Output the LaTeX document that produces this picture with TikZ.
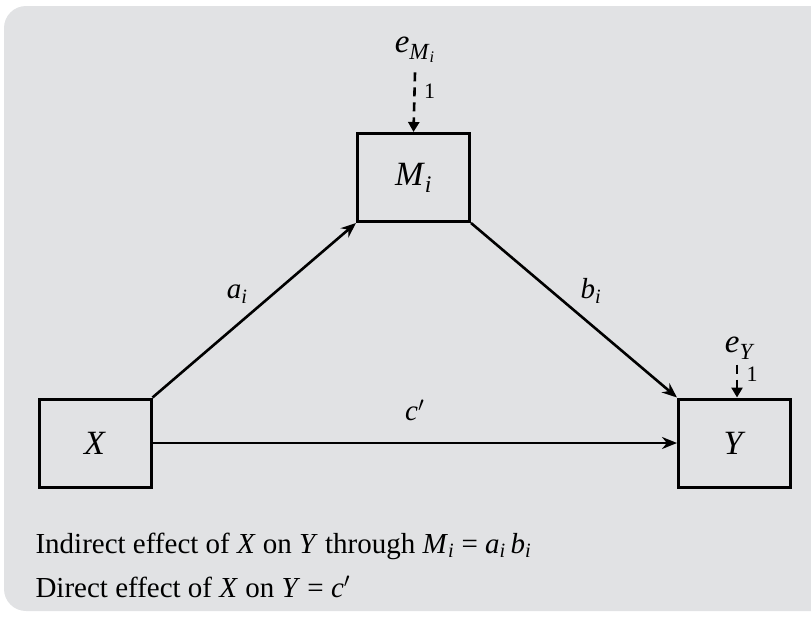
\documentclass[tikz,border=0pt]{standalone}
\usepackage{fontspec}
\setmainfont{Liberation Serif}
\usepackage{xcolor}
\usetikzlibrary{arrows.meta}
\definecolor{panelgray}{HTML}{E1E2E4}
\newcommand{\vb}[1]{\textit{#1}}

\begin{document}
\begin{tikzpicture}[x=1pt, y=-1pt,
    varbox/.style={draw, line width=3pt, minimum width=112pt, minimum height=88pt, inner sep=0pt, font=\fontsize{34}{40}\selectfont},
    path/.style={line width=2.6pt, -{Stealth[length=15pt, width=12pt]}},
    errpath/.style={line width=2.6pt, dash pattern=on 9pt off 6pt, -{Triangle[length=10pt, width=11pt]}},
    every node/.style={font=\fontsize{29}{34}\selectfont}]
    \useasboundingbox (0,0) rectangle (811,616);
    % Panel
    \fill[panelgray, rounded corners=22pt] (4,6) rectangle (860,611);

    % Variables
    \node[varbox] (X) at (95,443) {\vb{X}};
    \node[varbox] (M) at (413.5,177.5) {\vb{M}\textsubscript{\vb{i}}};
    \node[varbox] (Y) at (734.5,443) {\vb{Y}};

    % Error terms
    \node[font=\fontsize{33}{38}\selectfont] (eM) at (415,50) {\vb{e}\textsubscript{\vb{M}\textsubscript{\vb{i}}}};
    \node[font=\fontsize{33}{38}\selectfont] (eY) at (740,348) {\vb{e}\textsubscript{\vb{Y}}};
    \draw[errpath] (eM.south) ++(0,6) coordinate (eMs) -- (M.north) node[pos=0.32, right=5pt, font=\fontsize{22}{26}\selectfont] {1};
    \draw[errpath] (eY.south) ++(-3,2) coordinate (eYs) -- (eYs |- Y.north) node[pos=0.3, right=5pt, font=\fontsize{22}{26}\selectfont] {1};

    % Paths
    \draw[path] (X.north east) -- (M.south west) node[midway, above left=2pt] {\vb{a}\textsubscript{\vb{i}}};
    \draw[path] (M.south east) -- (Y.north west) node[midway, above right=2pt] {\vb{b}\textsubscript{\vb{i}}};
    \draw[path] (X.east) -- (Y.west) node[midway, above=18pt] {\vb{c}$'$};

    % Effects
    \node[anchor=base west] (indirect) at (32,553) {Indirect effect of \vb{X} on \vb{Y} through \vb{M}\textsubscript{\vb{i}} = \vb{a}\textsubscript{\vb{i}}\,\vb{b}\textsubscript{\vb{i}}};
    \node[anchor=base west] (direct) at (32,597) {Direct effect of \vb{X} on \vb{Y} = \vb{c}$'$};
\end{tikzpicture}
\end{document}
